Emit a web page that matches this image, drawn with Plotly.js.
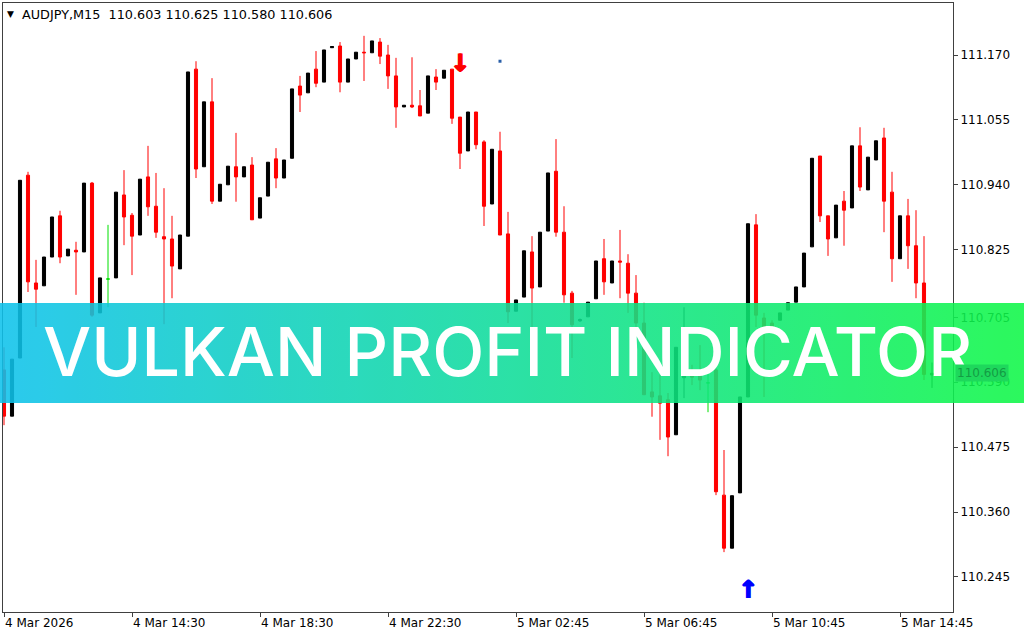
<!DOCTYPE html>
<html><head><meta charset="utf-8">
<script src="https://cdn.plot.ly/plotly-3.0.1.min.js"></script>
<style>html,body{margin:0;padding:0;background:#fff;}#chart{width:1024px;height:640px;}</style>
</head><body><div id="chart"></div>
<script>
// ---- data (AUDJPY, M15) ----
const symbolName = "AUDJPY,M15";
const openPrice = [110.612,110.530,110.633,110.957,110.766,110.761,110.812,110.885,110.814,110.824,
110.821,110.943,110.713,110.773,110.775,110.922,110.886,110.851,110.954,110.902,
110.848,110.844,110.791,110.849,111.145,110.972,111.087,110.911,110.940,110.972,
110.954,110.975,110.881,110.920,110.986,110.952,110.987,111.115,111.103,111.145,
111.122,111.183,111.186,111.122,111.163,111.175,111.174,111.193,111.170,111.133,
111.078,111.081,111.080,111.067,111.131,111.129,111.145,111.060,111.000,111.069,
111.016,110.906,111.000,110.853,110.716,110.741,110.821,110.759,110.858,110.964,
110.856,110.748,110.699,110.706,110.738,110.809,110.766,110.805,110.801,110.748,
110.695,110.573,110.566,110.559,110.497,110.598,110.607,110.603,110.589,110.612,
110.390,110.296,110.394,110.564,110.869,110.704,110.695,110.700,110.718,110.732,
110.759,110.830,110.991,110.885,110.846,110.911,110.899,111.009,110.931,110.984,
111.023,110.927,110.809,110.885,110.832,110.766,110.603];
const highPrice = [110.652,110.631,110.948,110.963,110.807,110.812,110.883,110.894,110.826,110.839,
110.943,110.945,110.775,110.869,110.927,110.966,110.890,110.950,111.009,110.961,
110.934,110.885,110.851,111.140,111.159,111.087,111.129,110.941,110.973,111.032,
110.972,110.989,110.917,110.980,111.005,110.984,111.110,111.133,111.138,111.177,
111.179,111.185,111.193,111.163,111.175,111.204,111.195,111.200,111.188,111.165,
111.081,111.166,111.108,111.133,111.145,111.143,111.145,111.060,111.069,111.069,
111.019,111.003,111.034,110.892,110.736,110.823,110.849,110.856,110.961,111.021,
110.902,110.752,110.703,110.732,110.805,110.844,110.805,110.860,110.817,110.780,
110.731,110.608,110.603,110.571,110.652,110.723,110.621,110.656,110.608,110.615,
110.470,110.389,110.564,110.871,110.888,110.713,110.700,110.713,110.731,110.759,
110.819,110.987,110.991,110.885,110.904,110.929,111.009,111.042,110.989,111.018,
111.041,110.963,110.885,110.915,110.895,110.849,110.625];
const lowPrice = [110.514,110.530,110.633,110.750,110.688,110.761,110.812,110.801,110.814,110.745,
110.821,110.706,110.713,110.723,110.775,110.833,110.780,110.851,110.885,110.846,
110.693,110.739,110.791,110.849,110.952,110.972,110.906,110.911,110.940,110.910,
110.954,110.878,110.881,110.920,110.934,110.952,110.987,111.069,111.103,111.113,
111.122,111.183,111.104,111.122,111.163,111.124,111.174,111.154,111.110,111.041,
111.078,111.076,111.062,111.067,111.108,111.129,111.048,110.968,111.000,111.003,
110.867,110.906,110.851,110.695,110.716,110.741,110.686,110.759,110.858,110.848,
110.731,110.633,110.697,110.706,110.738,110.745,110.766,110.739,110.713,110.688,
110.568,110.529,110.488,110.459,110.497,110.562,110.585,110.576,110.537,110.390,
110.289,110.296,110.394,110.564,110.688,110.564,110.684,110.700,110.718,110.732,
110.759,110.830,110.874,110.814,110.846,110.832,110.899,110.929,110.931,110.984,
110.856,110.768,110.809,110.791,110.739,110.594,110.580];
const closePrice = [110.530,110.631,110.948,110.768,110.755,110.812,110.883,110.812,110.826,110.821,
110.943,110.709,110.775,110.773,110.927,110.883,110.849,110.950,110.901,110.856,
110.844,110.796,110.851,111.140,110.968,111.087,110.911,110.941,110.973,110.954,
110.972,110.878,110.917,110.980,110.952,110.984,111.110,111.099,111.138,111.120,
111.179,111.185,111.122,111.163,111.175,111.174,111.195,111.168,111.133,111.078,
111.081,111.078,111.062,111.133,111.122,111.143,111.058,110.996,111.069,111.011,
110.902,111.003,110.851,110.715,110.736,110.823,110.757,110.856,110.961,110.856,
110.745,110.692,110.701,110.732,110.805,110.768,110.805,110.803,110.748,110.695,
110.568,110.564,110.553,110.493,110.652,110.607,110.599,110.594,110.589,110.396,
110.296,110.389,110.564,110.871,110.709,110.686,110.688,110.713,110.731,110.759,
110.819,110.987,110.885,110.844,110.904,110.895,111.009,110.936,110.989,111.018,
110.911,110.809,110.885,110.832,110.766,110.604,110.606];
const tickBars = [0,16,32,48,64,80,96,112];
const tickLabels = ["4 Mar 2026","4 Mar 14:30","4 Mar 18:30","4 Mar 22:30","5 Mar 02:45","5 Mar 06:45","5 Mar 10:45","5 Mar 14:45"];
const priceTicks = [111.170,111.055,110.940,110.825,110.705,110.590,110.475,110.360,110.245];
const sellSignalBar = [57];
const sellSignalPrice = [111.152];
const buySignalBar = [93];
const buySignalPrice = [110.219];
const markBar = [62];
const markPrice = [111.159];
const bannerText = "VULKAN PROFIT INDICATOR";

// ---- build traces ----
const idx = openPrice.map((_, i) => i);
const isDoji = i => openPrice[i] === closePrice[i];
const mainIdx = idx.filter(i => !isDoji(i));
const dojiIdx = idx.filter(isDoji);
function pick(arr, ids){ return ids.map(i => arr[i]); }

const mainTrace = {
  type:'candlestick', x: mainIdx,
  open: pick(openPrice, mainIdx), high: pick(highPrice, mainIdx),
  low: pick(lowPrice, mainIdx), close: pick(closePrice, mainIdx),
  increasing:{line:{color:'#000000', width:1}, fillcolor:'#000000'},
  decreasing:{line:{color:'#FF0000', width:1}, fillcolor:'#FF0000'},
  whiskerwidth:0, hoverinfo:'skip', showlegend:false
};
const dojiTrace = {
  type:'candlestick', x: dojiIdx,
  open: pick(openPrice, dojiIdx), high: pick(highPrice, dojiIdx),
  low: pick(lowPrice, dojiIdx), close: pick(closePrice, dojiIdx),
  increasing:{line:{color:'#00E000', width:1}, fillcolor:'#00E000'},
  decreasing:{line:{color:'#00E000', width:1}, fillcolor:'#00E000'},
  whiskerwidth:0, hoverinfo:'skip', showlegend:false
};
const redShadow = '1px 0px 0px #FF0000, -1px 0px 0px #FF0000, 0px 1px 0px #FF0000';
const blueShadow = '1px 0px 0px #0000FF, -1px 0px 0px #0000FF, 0px -1px 0px #0000FF';
const sellTrace = {
  type:'scatter', mode:'text', x: sellSignalBar, y: sellSignalPrice, text: sellSignalBar.map(()=> '↓'),
  textfont:{family:'DejaVu Sans', size:24, color:'#FF0000', weight:'bold', shadow: redShadow},
  textposition:'middle center', cliponaxis:false, hoverinfo:'skip'
};
const buyTrace = {
  type:'scatter', mode:'text', x: buySignalBar, y: buySignalPrice, text: buySignalBar.map(()=> '↑'),
  textfont:{family:'DejaVu Sans', size:24, color:'#0000FF', weight:'bold', shadow: blueShadow},
  textposition:'middle center', cliponaxis:false, hoverinfo:'skip'
};
const markTrace = {
  type:'scatter', mode:'markers', x: markBar, y: markPrice,
  marker:{symbol:'square', size:3, color:'#2a5fa8'}, hoverinfo:'skip'
};

const last = openPrice.length - 1;
const headerText = symbolName + '  ' + [openPrice[last], highPrice[last], lowPrice[last], closePrice[last]].map(v => v.toFixed(3)).join(' ');

const bannerSvg = '<svg xmlns="http://www.w3.org/2000/svg" width="1024" height="100" preserveAspectRatio="none">' +
  '<defs><linearGradient id="g" x1="0" x2="1" y1="0" y2="0">' +
  '<stop offset="0" stop-color="#0EC2EC"/><stop offset="1" stop-color="#0FF847"/></linearGradient></defs>' +
  '<rect width="1024" height="100" fill="url(#g)"/></svg>';

const layout = {
  width:1024, height:640,
  margin:{l:3, r:71, t:3, b:28, pad:0},
  paper_bgcolor:'#ffffff', plot_bgcolor:'#ffffff',
  showlegend:false, hovermode:false, dragmode:false,
  boxgap:0.45, boxmode:'overlay',
  xaxis:{
    range:[-0.125, 118.625], rangeslider:{visible:false}, fixedrange:true,
    showgrid:false, zeroline:false, showline:true, mirror:true, linecolor:'#404040', linewidth:1,
    tickmode:'array', tickvals: tickBars, ticktext: tickLabels,
    ticks:'outside', ticklen:4, tickcolor:'#404040', ticklabelposition:'outside right',
    tickfont:{family:'DejaVu Sans', size:12, color:'#000000'}
  },
  yaxis:{
    side:'right', range:[110.1829, 111.2622], fixedrange:true,
    showgrid:false, zeroline:false, showline:true, mirror:true, linecolor:'#404040', linewidth:1,
    tickmode:'array', tickvals: priceTicks, tickformat:'.3f',
    ticks:'outside', ticklen:4, tickcolor:'#404040',
    tickfont:{family:'DejaVu Sans', size:12, color:'#000000'}
  },
  images:[{
    source:'data:image/svg+xml;charset=utf-8,' + encodeURIComponent(bannerSvg),
    xref:'paper', yref:'paper', x:-0.00316, y:0.50739, sizex:1.0779, sizey:0.1642,
    xanchor:'left', yanchor:'top', sizing:'stretch', layer:'above', opacity:0.88
  }],
  annotations:[
    {xref:'paper', yref:'paper', x:0.0021, y:0.9819, xanchor:'left', yanchor:'middle', showarrow:false,
     text:'▼', font:{family:'DejaVu Sans', size:9, color:'#000000'}},
    {xref:'paper', yref:'paper', x:0.0179, y:0.9819, xanchor:'left', yanchor:'middle', showarrow:false,
     text: headerText, font:{family:'DejaVu Sans', size:12.8, color:'#000000'}},
    {xref:'paper', yref:'paper', x:0.5311, y:0.4286, xanchor:'center', yanchor:'middle', showarrow:false,
     text: bannerText, font:{family:'Inter', size:68, color:'#ffffff', weight:500}},
    {xref:'paper', yref:'y', x:1.0021, y: closePrice[last], xanchor:'left', yanchor:'middle', showarrow:false,
     text: closePrice[last].toFixed(3), bgcolor:'#1ED85C', borderpad:1,
     font:{family:'DejaVu Sans', size:12, color:'#139C44'}}
  ]
};

Plotly.newPlot('chart', [mainTrace, dojiTrace, sellTrace, buyTrace, markTrace], layout, {staticPlot:true, displayModeBar:false});
</script>
</body></html>
